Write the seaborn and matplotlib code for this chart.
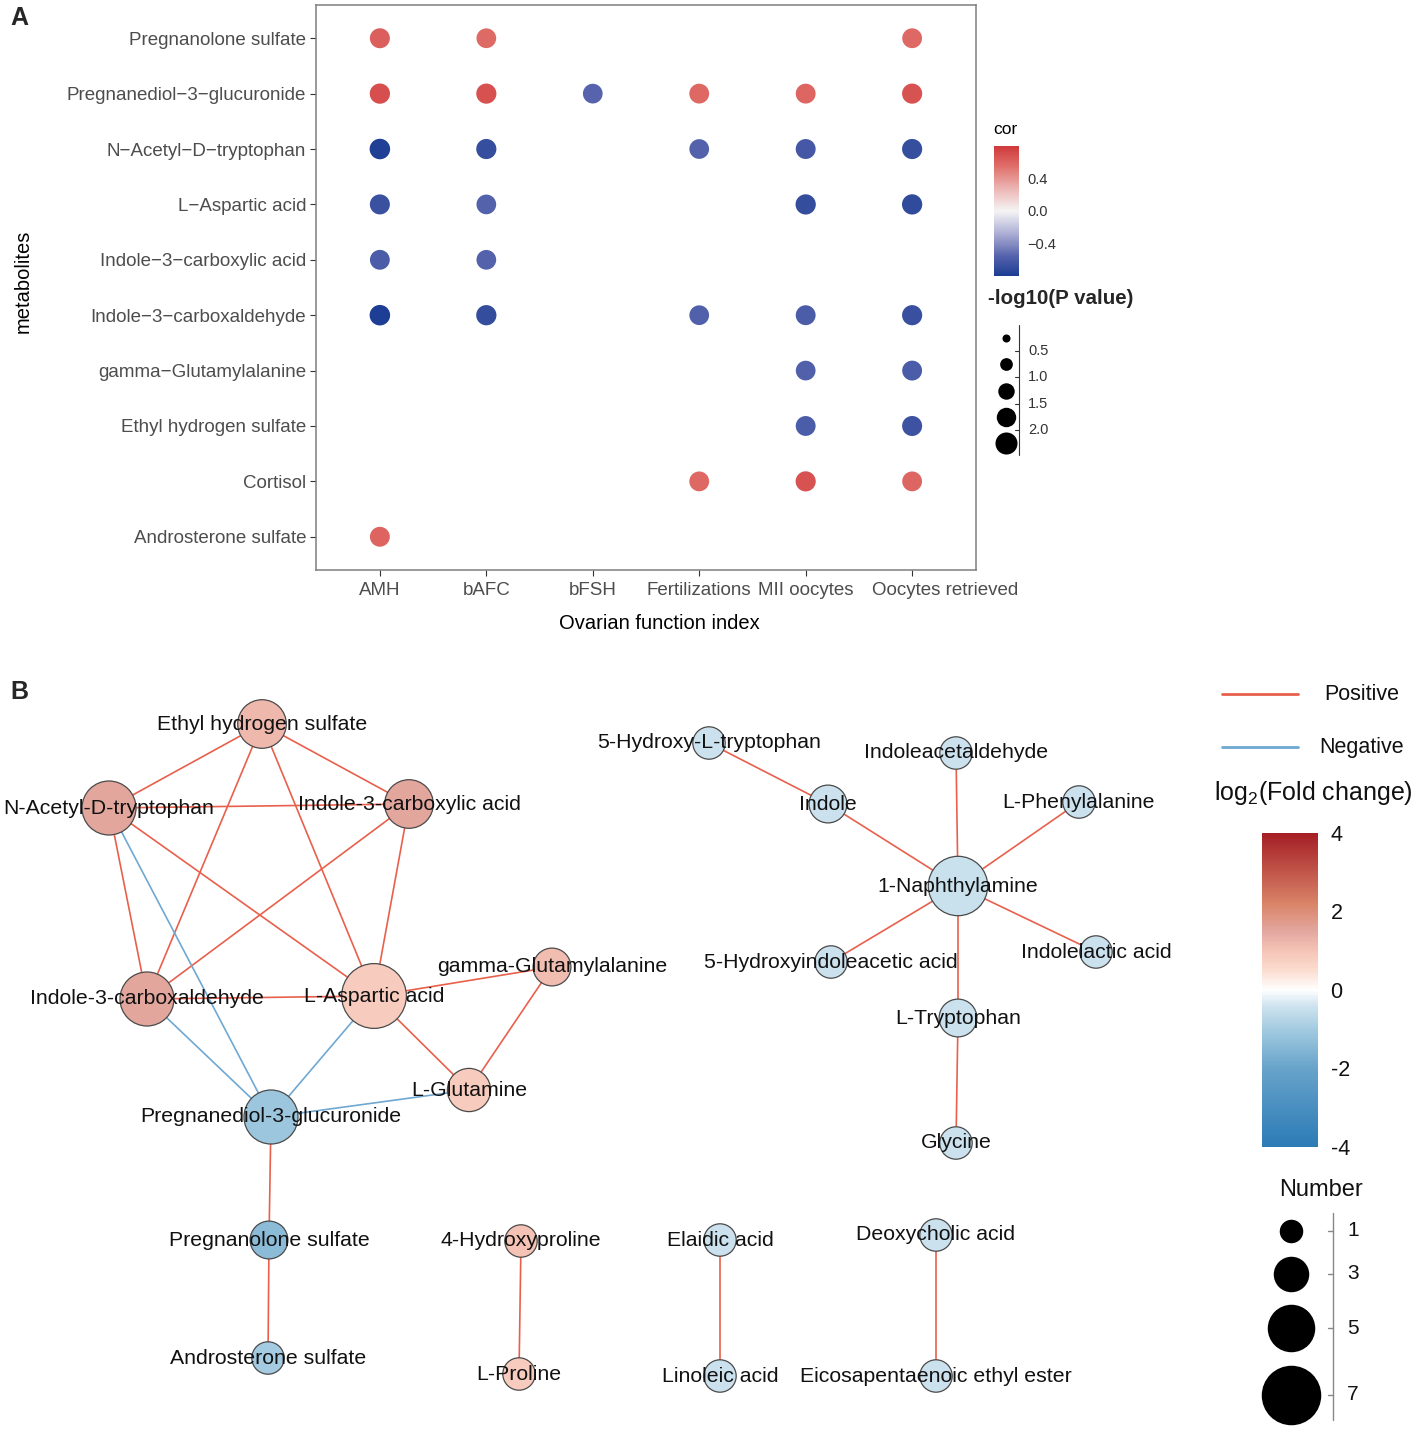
import numpy as np
import pandas as pd
import matplotlib
matplotlib.use("Agg")
import matplotlib.pyplot as plt
import seaborn as sns
from matplotlib.colors import LinearSegmentedColormap, Normalize
from matplotlib.cm import ScalarMappable
from matplotlib.transforms import ScaledTranslation

# ---------------- panel A data ----------------
MINUS = "\u2212"
metabolites = ["Pregnanolone sulfate", f"Pregnanediol{MINUS}3{MINUS}glucuronide",
               f"N{MINUS}Acetyl{MINUS}D{MINUS}tryptophan", f"L{MINUS}Aspartic acid",
               f"Indole{MINUS}3{MINUS}carboxylic acid", f"Indole{MINUS}3{MINUS}carboxaldehyde",
               f"gamma{MINUS}Glutamylalanine", "Ethyl hydrogen sulfate", "Cortisol",
               "Androsterone sulfate"]
indices = ["AMH", "bAFC", "bFSH", "Fertilizations", "MII oocytes", "Oocytes retrieved"]

# (metabolite row, index column, correlation, -log10 P)
pair_row = [0, 0, 0,
            1, 1, 1, 1, 1, 1,
            2, 2, 2, 2, 2,
            3, 3, 3, 3,
            4, 4,
            5, 5, 5, 5, 5,
            6, 6,
            7, 7,
            8, 8, 8,
            9]
pair_col = [0, 1, 5,
            0, 1, 2, 3, 4, 5,
            0, 1, 3, 4, 5,
            0, 1, 4, 5,
            0, 1,
            0, 1, 3, 4, 5,
            4, 5,
            4, 5,
            3, 4, 5,
            0]
pair_cor = [0.62, 0.57, 0.58,
            0.70, 0.69, -0.55, 0.58, 0.59, 0.68,
            -0.78, -0.69, -0.56, -0.62, -0.69,
            -0.67, -0.56, -0.70, -0.71,
            -0.60, -0.56,
            -0.79, -0.70, -0.57, -0.60, -0.68,
            -0.57, -0.60,
            -0.60, -0.66,
            0.58, 0.68, 0.59,
            0.60]
pair_logp = [1.85, 1.80, 1.82,
             1.90, 1.88, 1.80, 1.82, 1.83, 1.88,
             1.95, 1.88, 1.80, 1.84, 1.88,
             1.86, 1.80, 1.90, 1.90,
             1.82, 1.80,
             1.95, 1.90, 1.80, 1.83, 1.88,
             1.80, 1.83,
             1.83, 1.86,
             1.82, 1.88, 1.82,
             1.83]
plegend_vals = [0.3, 0.75, 1.25, 1.75, 2.25]
plegend_ticks = [0.5, 1.0, 1.5, 2.0]

# ---------------- panel B data ----------------
node_names = ["Ethyl hydrogen sulfate", "N-Acetyl-D-tryptophan", "Indole-3-carboxylic acid",
              "Indole-3-carboxaldehyde", "L-Aspartic acid", "gamma-Glutamylalanine",
              "L-Glutamine", "Pregnanediol-3-glucuronide", "Pregnanolone sulfate",
              "Androsterone sulfate", "4-Hydroxyproline", "L-Proline", "Elaidic acid",
              "Linoleic acid", "Deoxycholic acid", "Eicosapentaenoic ethyl ester",
              "5-Hydroxy-L-tryptophan", "Indole", "Indoleacetaldehyde", "L-Phenylalanine",
              "1-Naphthylamine", "5-Hydroxyindoleacetic acid", "Indolelactic acid",
              "L-Tryptophan", "Glycine"]
# layout coordinates of the network (as exported from the layout tool)
node_x = [262, 109, 409, 147, 374, 552, 469, 271, 269, 268, 521, 519, 720, 720, 936, 936,
          709, 828, 956, 1079, 958, 831, 1096, 958, 956]
node_y = [724, 808, 804, 999, 996, 967, 1090, 1117, 1240, 1358, 1241, 1374, 1240, 1376,
          1235, 1376, 743, 804, 753, 802, 886, 962, 952, 1018, 1143]
node_fc = [1.2, 1.5, 1.5, 1.5, 0.85, 1.1, 0.85, -1.1, -1.4, -1.0, 1.0, 0.85, -0.45, -0.45,
           -0.45, -0.45, -0.45, -0.45, -0.45, -0.45, -0.5, -0.45, -0.45, -0.45, -0.45]

edge_a = ["Ethyl hydrogen sulfate", "Ethyl hydrogen sulfate", "Ethyl hydrogen sulfate",
          "Ethyl hydrogen sulfate", "N-Acetyl-D-tryptophan", "N-Acetyl-D-tryptophan",
          "N-Acetyl-D-tryptophan", "Indole-3-carboxylic acid", "Indole-3-carboxylic acid",
          "Indole-3-carboxaldehyde", "L-Aspartic acid", "L-Aspartic acid",
          "gamma-Glutamylalanine", "Pregnanediol-3-glucuronide", "Pregnanolone sulfate",
          "N-Acetyl-D-tryptophan", "Indole-3-carboxaldehyde", "L-Aspartic acid",
          "L-Glutamine", "4-Hydroxyproline", "Elaidic acid", "Deoxycholic acid",
          "5-Hydroxy-L-tryptophan", "Indole", "Indoleacetaldehyde", "L-Phenylalanine",
          "1-Naphthylamine", "1-Naphthylamine", "1-Naphthylamine", "L-Tryptophan"]
edge_b = ["N-Acetyl-D-tryptophan", "Indole-3-carboxylic acid", "Indole-3-carboxaldehyde",
          "L-Aspartic acid", "Indole-3-carboxylic acid", "Indole-3-carboxaldehyde",
          "L-Aspartic acid", "Indole-3-carboxaldehyde", "L-Aspartic acid",
          "L-Aspartic acid", "gamma-Glutamylalanine", "L-Glutamine",
          "L-Glutamine", "Pregnanolone sulfate", "Androsterone sulfate",
          "Pregnanediol-3-glucuronide", "Pregnanediol-3-glucuronide",
          "Pregnanediol-3-glucuronide", "Pregnanediol-3-glucuronide", "L-Proline",
          "Linoleic acid", "Eicosapentaenoic ethyl ester", "Indole", "1-Naphthylamine",
          "1-Naphthylamine", "1-Naphthylamine", "5-Hydroxyindoleacetic acid",
          "Indolelactic acid", "L-Tryptophan", "Glycine"]
edge_sign = ["Positive"] * 15 + ["Negative"] * 4 + ["Positive"] * 11
number_legend = [1, 3, 5, 7]
fc_ticks = [4, 2, 0, -2, -4]

# ---------------- style ----------------
sns.set_theme(style="white")
plt.rcParams["font.family"] = ["Liberation Sans", "DejaVu Sans"]
plt.rcParams["mathtext.fontset"] = "custom"
plt.rcParams["mathtext.rm"] = "Liberation Sans"

W, H = 1417, 1430
PX = 72 / 100  # points per pixel at dpi 100
fig = plt.figure(figsize=(W / 100, H / 100), dpi=100)
fig.patch.set_facecolor("white")

grey_txt = "#4D4D4D"
cmap_cor = LinearSegmentedColormap.from_list(
    "cor", [(0.0, "#1C3D93"), (0.156, "#5764AD"), (0.3125, "#A7A9D2"),
            (0.5, "#F4F4F4"), (0.6875, "#EBB0AE"), (0.84, "#E0706B"), (1.0, "#D03A3C")])
norm_cor = Normalize(-0.8, 0.8)


def fx(px):
    return px / W


def fy(py):
    return 1 - py / H


# ---------------- panel A ----------------
df_a = pd.DataFrame({"col": pair_col, "row": pair_row, "cor": pair_cor, "logp": pair_logp})
ax_a = fig.add_axes([fx(316), fy(570), fx(976) - fx(316), fy(5) - fy(570)])
sns.scatterplot(data=df_a, x="col", y="row", hue="cor", palette=cmap_cor, hue_norm=norm_cor,
                size="logp", sizes=(0, 112 * 2.5), size_norm=(0, 2.5), linewidth=0,
                legend=False, ax=ax_a)
ax_a.set_xlim(-0.6, len(indices) - 0.4)
ax_a.set_ylim(len(metabolites) - 0.4, -0.6)
ax_a.set_xticks(range(len(indices)))
ax_a.set_xticklabels(indices, fontsize=13.5, color=grey_txt)
ax_a.set_yticks(range(len(metabolites)))
ax_a.set_yticklabels(metabolites, fontsize=13.5, color=grey_txt)
ax_a.tick_params(axis="both", length=4, width=0.8, color="#333333", pad=3,
                 bottom=True, left=True)
ax_a.tick_params(axis="x", pad=5)
# the last index label sits shifted right so it clears "MII oocytes"
last_lab = ax_a.get_xticklabels()[-1]
last_lab.set_transform(last_lab.get_transform() + ScaledTranslation(0.33, 0, fig.dpi_scale_trans))
ax_a.set_xlabel("Ovarian function index", fontsize=14.5, color="black")
ax_a.xaxis.set_label_coords(0.52, -0.078)
ax_a.set_ylabel("metabolites", fontsize=14.5, color="black")
ax_a.yaxis.set_label_coords(-0.43, 0.511)
for sp in ax_a.spines.values():
    sp.set_color("#7F7F7F")
    sp.set_linewidth(1.1)

# cor colorbar
cax_a = fig.add_axes([fx(994), fy(276), fx(1019) - fx(994), fy(146) - fy(276)])
cb_a = fig.colorbar(ScalarMappable(norm=norm_cor, cmap=cmap_cor), cax=cax_a)
cb_a.outline.set_visible(False)
cb_a.set_ticks([-0.4, 0.0, 0.4])
cb_a.set_ticklabels([f"{MINUS}0.4", "0.0", "0.4"])
cax_a.yaxis.set_ticks_position("both")
cax_a.tick_params(axis="y", direction="in", length=5, width=0.8, colors="white",
                  labelcolor="#333333", labelsize=10.5, labelleft=False, labelright=True, pad=6)

# ---------------- overlay (legends + panel B network) ----------------
ax = fig.add_axes([0, 0, 1, 1])
ax.set_xlim(0, W)
ax.set_ylim(H, 0)
ax.axis("off")
ax.patch.set_alpha(0)

ax.text(10, 18, "A", fontsize=18, fontweight="bold", va="center", ha="left")
ax.text(10, 692, "B", fontsize=18, fontweight="bold", va="center", ha="left")

ax.text(993, 129, "cor", fontsize=12.5, va="center", ha="left", color="black")
ax.text(988, 298, "-log10(P value)", fontsize=14.8, fontweight="bold", va="center", ha="left")

# size legend for -log10(P)
leg_y0, leg_step = 338, 26.3
ax.plot([1019, 1019], [325, 455], color="#333333", lw=0.8)
for i, v in enumerate(plegend_vals):
    ax.scatter(1006, leg_y0 + i * leg_step, s=112 * v, color="black", linewidth=0)
for i, t in enumerate(plegend_ticks):
    yy = leg_y0 + (i + 0.5) * leg_step
    ax.plot([1015, 1019], [yy, yy], color="#333333", lw=0.8)
    ax.text(1028, yy, f"{t:.1f}", fontsize=10.5, va="center", ha="left", color="#333333")

# network edges
pos = {n: (x, y) for n, x, y in zip(node_names, node_x, node_y)}
edge_col = {"Positive": "#E8604C", "Negative": "#6FA8D2"}
degree = {n: 0 for n in node_names}
for a, b, s in zip(edge_a, edge_b, edge_sign):
    degree[a] += 1
    degree[b] += 1
    ax.plot([pos[a][0], pos[b][0]], [pos[a][1], pos[b][1]], color=edge_col[s], lw=1.2, zorder=1)

cmap_fc = LinearSegmentedColormap.from_list(
    "fc", [(0.0, "#2B7BB6"), (0.25, "#68A3CA"), (0.375, "#A3CBE1"), (0.45, "#CFE3EF"),
           (0.5, "#FFFFFF"), (0.5625, "#FBDDD0"), (0.625, "#F5C4B6"), (0.6875, "#E3A79F"),
           (0.775, "#D98468"), (1.0, "#A51E25")])
norm_fc = Normalize(-4, 4)

df_b = pd.DataFrame({"name": node_names, "x": node_x, "y": node_y, "fc": node_fc})
df_b["degree"] = df_b["name"].map(degree)
node_sizes = {d: ((27 + 5.4 * d) * PX) ** 2 for d in sorted(df_b["degree"].unique())}
sns.scatterplot(data=df_b, x="x", y="y", hue="fc", palette=cmap_fc, hue_norm=norm_fc,
                size="degree", sizes=node_sizes, edgecolor="#4A4A4A", linewidth=0.9,
                legend=False, zorder=2, ax=ax)
ax.set_xlim(0, W)
ax.set_ylim(H, 0)
ax.axis("off")
for n, x, y in zip(node_names, node_x, node_y):
    ax.text(x, y, n, fontsize=15.3, ha="center", va="center", color="#111111", zorder=3)

# edge legend
for s, yy in zip(["Positive", "Negative"], [694, 747]):
    ax.plot([1222, 1298], [yy, yy], color=edge_col[s], lw=2)
    ax.text(1362, yy, s, fontsize=15.5, ha="center", va="center", color="#111111")

ax.text(1313, 793, r"log$_2$(Fold change)", fontsize=18, ha="center", va="center",
        color="#111111")

cax_b = fig.add_axes([fx(1262), fy(1147), fx(1318) - fx(1262), fy(833) - fy(1147)])
cb_b = fig.colorbar(ScalarMappable(norm=norm_fc, cmap=cmap_fc), cax=cax_b)
cb_b.outline.set_visible(False)
cb_b.set_ticks(fc_ticks)
cb_b.set_ticklabels([str(t) for t in fc_ticks])
cax_b.tick_params(axis="y", length=0, labelsize=15.5, labelcolor="#111111", pad=9)

# Number legend
ax.text(1321, 1190, "Number", fontsize=17, ha="center", va="center", color="#111111")
ax.plot([1333, 1333], [1213, 1420], color="#888888", lw=1)
leg_d = [17.5 + 6 * n for n in number_legend]
yy = 1231
for i, (n, d) in enumerate(zip(number_legend, leg_d)):
    if i > 0:
        yy += (leg_d[i - 1] + d) / 2 + 13
    ax.scatter(1291, yy, s=(d * PX) ** 2, color="black", linewidth=0)
    ax.plot([1328, 1333], [yy, yy], color="#888888", lw=1)
    ax.text(1347, yy, str(n), fontsize=15, ha="left", va="center", color="#111111")

fig.savefig("out.png", dpi=100, facecolor="white")
